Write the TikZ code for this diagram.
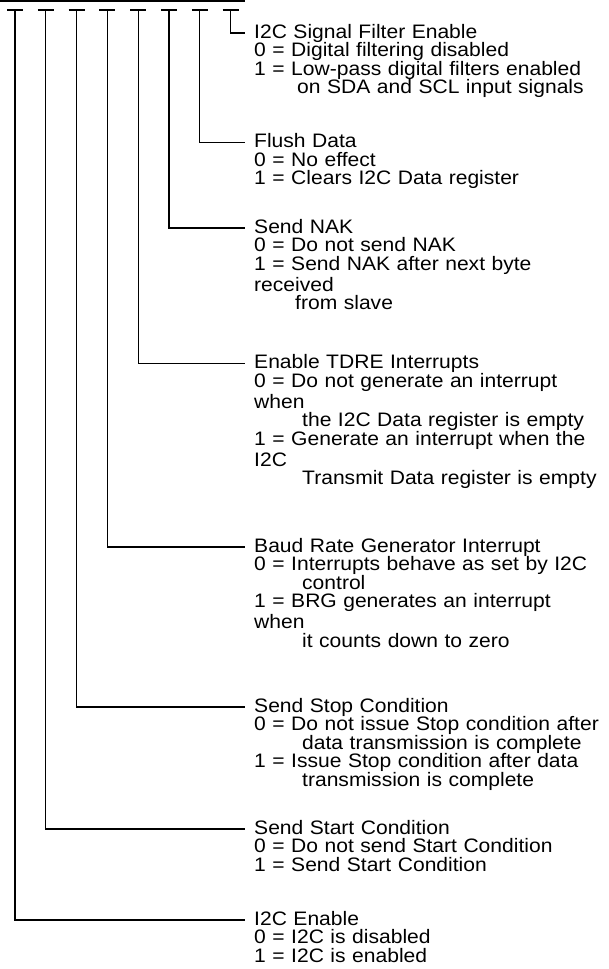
\documentclass[tikz,border=0pt]{standalone}
\usepackage{fontspec}
\setmainfont{Liberation Sans}[FakeStretch=1.08]
\usepackage{tikz}
\usetikzlibrary{positioning}
\definecolor{regblack}{RGB}{0,0,0}

\begin{document}
\begin{tikzpicture}[x=1pt, y=-1pt,
    regline/.style={draw=regblack, line width=1.1pt},
    fieldtxt/.style={anchor=base west, inner sep=0pt, text width=360pt, align=left,
        font=\fontsize{19.5}{18.5}\selectfont}]
    \useasboundingbox (0,0) rectangle (608,969);
    % bus line over the bits
    \coordinate (busL) at (0,1);
    \coordinate (busR) at (245,1);
    \draw[regline] (busL) -- (busR);
    % bit ticks, bit 0 on the right
    \foreach \i/\xb in {0/230.6, 1/199.8, 2/169, 3/138.2, 4/107.4, 5/76.6, 6/45.8, 7/15} {
        \coordinate (b\i) at (\xb,10);
        \draw[regline] ([xshift=-8pt]b\i) -- ([xshift=8pt]b\i);
    }
    % field descriptions
    \node[fieldtxt] (f0) at (254,38) {I2C Signal Filter Enable\\
        0 = Digital filtering disabled\\
        1 = Low-pass digital filters enabled\\
        \hspace*{43pt}on SDA and SCL input signals};
    \node[fieldtxt] (f1) at (254,147.5) {Flush Data\\
        0 = No effect\\
        1 = Clears I2C Data register};
    \node[fieldtxt] (f2) at (254,233) {Send NAK\\
        0 = Do not send NAK\\
        1 = Send NAK after next byte\\[2.5pt]
        received\\
        \hspace*{41pt}from slave};
    \node[fieldtxt] (f3) at (254,368.5) {Enable TDRE Interrupts\\
        0 = Do not generate an interrupt\\[2.5pt]
        when\\
        \hspace*{48pt}the I2C Data register is empty\\
        1 = Generate an interrupt when the\\[2.5pt]
        I2C\\
        \hspace*{48pt}Transmit Data register is empty};
    \node[fieldtxt] (f4) at (254,552) {Baud Rate Generator Interrupt\\
        0 = Interrupts behave as set by I2C\\
        \hspace*{48pt}control\\
        1 = BRG generates an interrupt\\[2.5pt]
        when\\
        \hspace*{48pt}it counts down to zero};
    \node[fieldtxt] (f5) at (254,712) {Send Stop Condition\\
        0 = Do not issue Stop condition after\\
        \hspace*{48pt}data transmission is complete\\
        1 = Issue Stop condition after data\\
        \hspace*{48pt}transmission is complete};
    \node[fieldtxt] (f6) at (254,834) {Send Start Condition\\
        0 = Do not send Start Condition\\
        1 = Send Start Condition};
    \node[fieldtxt] (f7) at (254,925) {I2C Enable\\
        0 = I2C is disabled\\
        1 = I2C is enabled};
    % bit to field connectors
    \foreach \i in {0,...,7}
        \draw[regline] (b\i) |- ([xshift=-9pt,yshift=5pt]f\i.base west);
\end{tikzpicture}
\end{document}
